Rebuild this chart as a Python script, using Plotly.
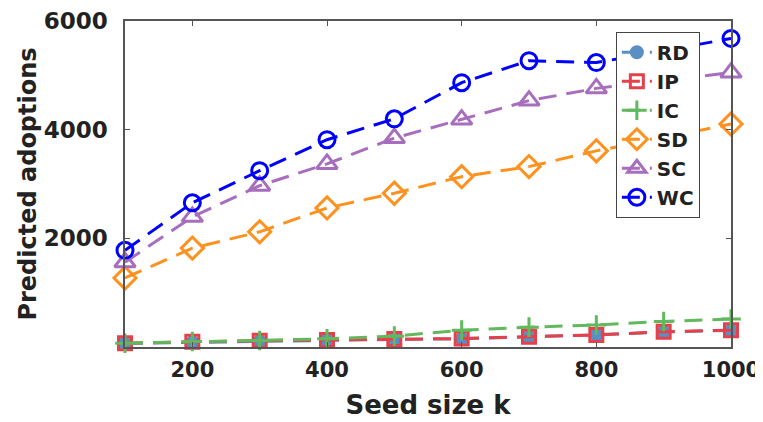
import plotly.graph_objects as go

seed_k = [100, 200, 300, 400, 500, 600, 700, 800, 900, 1000]

rd = [65, 85, 105, 125, 140, 150, 185, 225, 275, 305]
ip = [70, 95, 115, 130, 145, 155, 190, 220, 280, 310]
ic = [70, 100, 120, 150, 200, 310, 365, 405, 470, 515]
sd = [1270, 1820, 2120, 2560, 2830, 3135, 3320, 3610, 3850, 4105]
sc = [1560, 2395, 2970, 3370, 3845, 4185, 4535, 4760, 4900, 5050]
wc = [1780, 2655, 3245, 3815, 4200, 4865, 5270, 5235, 5450, 5680]

series_names = ["RD", "IP", "IC", "SD", "SC", "WC"]
series_vals = [rd, ip, ic, sd, sc, wc]
colors = ["#5a8fc4", "#e6404b", "#62b85c", "#ff911e", "#a86ebe", "#0000ff"]
symbols = ["circle", "square-open", "cross-thin-open", "diamond-open", "triangle-up-open", "circle-open"]
sizes = [11, 13, 14, 17, 18, 16]

x_ticks = [200, 400, 600, 800, 1000]
y_ticks = [2000, 4000, 6000]

FONT = "DejaVu Sans"
TXT = "#222222"

fig = go.Figure()
for name, vals, col, sym, sz in zip(series_names, series_vals, colors, symbols, sizes):
    fig.add_trace(go.Scatter(
        x=seed_k, y=vals, name=name, mode="lines+markers",
        legendgroup=name,
        line=dict(color=col, width=3, dash="18px,10px"),
        marker=dict(symbol=sym, size=sz, color=col,
                    line=dict(color=col, width=3)),
        cliponaxis=False,
    ))

axis_common = dict(
    showline=True, linecolor="#555555", linewidth=1.5, mirror="ticks",
    ticks="inside", ticklen=5, tickwidth=1.2, tickcolor="#555555",
    showgrid=False, zeroline=False, automargin=False,
    ticklabeloverflow="allow",
)

# page body has an 8px margin, so the figure is sized to the visible window
fig.update_layout(
    width=755, height=414,
    margin=dict(l=117, r=32, t=13, b=75),
    paper_bgcolor="white", plot_bgcolor="white",
    xaxis=dict(range=[100, 1000], tickvals=x_ticks,
               ticktext=[str(v) for v in x_ticks],
               tickfont=dict(family=FONT, size=21, color=TXT, weight="bold"),
               title=dict(text="Seed size k", standoff=15,
                          font=dict(family=FONT, size=26, color=TXT, weight="bold")),
               ticklabelstandoff=3,
               **axis_common),
    yaxis=dict(range=[0, 6000], tickvals=y_ticks,
               ticktext=[str(v) for v in y_ticks],
               tickfont=dict(family=FONT, size=23, color=TXT, weight="bold"),
               title=dict(text="Predicted adoptions", standoff=0,
                          font=dict(family=FONT, size=24, color=TXT, weight="bold")),
               ticklabelstandoff=11,
               **axis_common),
    legend=dict(x=0.81, y=0.967, xanchor="left", yanchor="top",
                bgcolor="white", bordercolor="#444444", borderwidth=1,
                font=dict(family=FONT, size=20, color=TXT, weight="bold"),
                itemwidth=30, tracegroupgap=0),
    showlegend=True,
)

fig.write_html("out.html")
